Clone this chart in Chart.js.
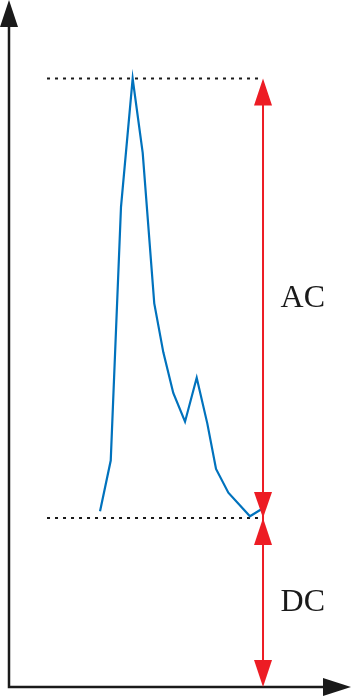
<!DOCTYPE html>
<html>
<head>
<meta charset="utf-8">
<script src="https://cdn.jsdelivr.net/npm/chart.js@4/dist/chart.umd.min.js"></script>
<style>
  html, body { margin: 0; padding: 0; background: #fff; }
  canvas { display: block; }
</style>
</head>
<body>
<canvas id="chart" width="351" height="696"></canvas>
<script>
// Signal samples (time units, amplitude units where DC level = 1)
const sampleTimes = [8.43, 9.42, 10.37, 11.45, 12.38, 13.45, 14.29, 15.21, 16.3, 17.38, 18.36, 19.17, 20.31, 22.31, 23.33];
const signalValues = [1.04, 1.34, 2.84, 3.6, 3.16, 2.27, 1.98, 1.74, 1.57, 1.83, 1.56, 1.29, 1.15, 1.01, 1.05];

// Reference levels
const peakLevel = 3.6;
const dcLevel = 1.0;
const guideStart = 3.52;
const guideEnd = 23.43;
const arrowX = 23.52;
const labelX = 27.2;
const labels = ['AC', 'DC'];

const RED = '#ED1C24';

function arrowHead(ctx, x, tipY, dir, len, half) {
  ctx.beginPath();
  ctx.moveTo(x, tipY);
  ctx.lineTo(x - half, tipY + dir * len);
  ctx.lineTo(x + half, tipY + dir * len);
  ctx.closePath();
  ctx.fill();
}

const annotate = {
  id: 'annotate',
  afterDatasetsDraw(chart) {
    const { ctx, scales: { x, y } } = chart;
    const x0 = x.getPixelForValue(0);
    const y0 = y.getPixelForValue(0);
    const ax = x.getPixelForValue(arrowX);
    const yPeak = y.getPixelForValue(peakLevel);
    const yDc = y.getPixelForValue(dcLevel);
    ctx.save();

    // axes
    ctx.strokeStyle = '#1a1a1a';
    ctx.fillStyle = '#1a1a1a';
    ctx.lineWidth = 2.5;
    ctx.beginPath();
    ctx.moveTo(x0, 24);
    ctx.lineTo(x0, y0);
    ctx.lineTo(326, y0);
    ctx.stroke();
    arrowHead(ctx, x0, 0, 1, 27, 9);
    ctx.beginPath();
    ctx.moveTo(351, y0);
    ctx.lineTo(323, y0 - 9);
    ctx.lineTo(323, y0 + 9);
    ctx.closePath();
    ctx.fill();

    // red dimension arrows
    ctx.strokeStyle = RED;
    ctx.fillStyle = RED;
    ctx.lineWidth = 2;
    ctx.beginPath();
    ctx.moveTo(ax, yPeak + 10);
    ctx.lineTo(ax, y0 - 10);
    ctx.stroke();
    arrowHead(ctx, ax, yPeak, 1, 27, 9);
    arrowHead(ctx, ax, yDc, -1, 26, 9);
    arrowHead(ctx, ax, yDc, 1, 27, 9);
    arrowHead(ctx, ax, y0, -1, 27, 9);

    // labels
    ctx.fillStyle = '#1a1a1a';
    ctx.font = '32px "Liberation Serif", "DejaVu Serif", serif';
    ctx.textAlign = 'center';
    ctx.textBaseline = 'middle';
    const lx = x.getPixelForValue(labelX);
    ctx.fillText(labels[0], lx, (yPeak + yDc) / 2);
    ctx.fillText(labels[1], lx, (yDc + y0) / 2);
    ctx.restore();
  }
};

new Chart(document.getElementById('chart'), {
  type: 'line',
  data: {
    datasets: [
      {
        data: sampleTimes.map((t, i) => ({ x: t, y: signalValues[i] })),
        borderColor: '#0072BD',
        borderWidth: 2.2,
        pointRadius: 0,
        tension: 0
      },
      {
        data: [{ x: guideStart, y: peakLevel }, { x: guideEnd, y: peakLevel }],
        borderColor: '#1a1a1a',
        borderWidth: 2,
        borderDash: [3, 5],
        pointRadius: 0
      },
      {
        data: [{ x: guideStart, y: dcLevel }, { x: guideEnd, y: dcLevel }],
        borderColor: '#1a1a1a',
        borderWidth: 2,
        borderDash: [3, 5],
        pointRadius: 0
      }
    ]
  },
  options: {
    responsive: false,
    animation: false,
    layout: { padding: { left: 0, right: 0, top: 0, bottom: 9 } },
    plugins: { legend: { display: false }, tooltip: { enabled: false } },
    scales: {
      x: { type: 'linear', min: -0.833, max: 31.667, display: false },
      y: { type: 'linear', min: 0, max: 4.065, display: false }
    }
  },
  plugins: [annotate]
});
</script>
</body>
</html>
